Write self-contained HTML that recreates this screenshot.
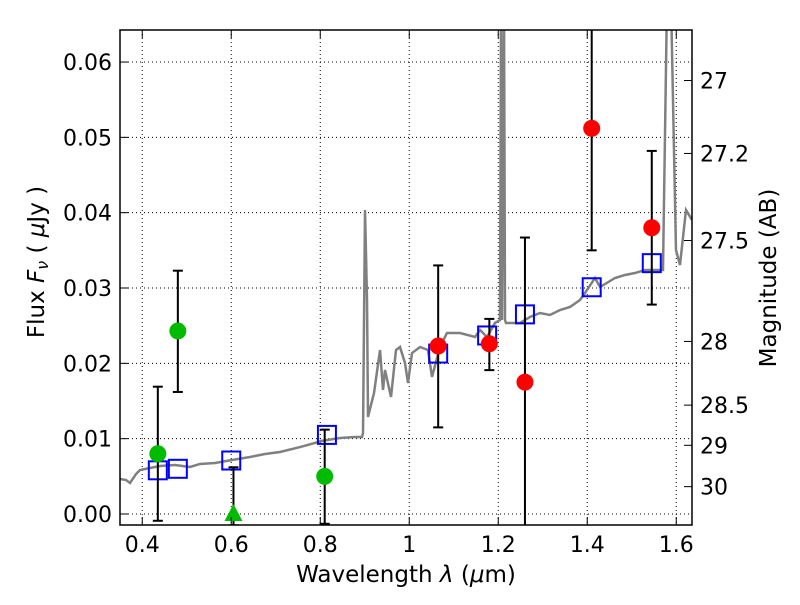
<!DOCTYPE html>
<html><head><meta charset="utf-8"><style>
body{margin:0;background:#fff}
svg{font-family:"DejaVu Sans","Liberation Sans",sans-serif}
</style></head><body>
<svg id="c" width="800" height="600" xmlns="http://www.w3.org/2000/svg">
<defs><clipPath id="pa"><rect x="120" y="30" width="572" height="495"/></clipPath></defs>
<g id="grid"></g>
<g id="spec" clip-path="url(#pa)"></g>
<g id="marks" clip-path="url(#pa)"></g>
<rect x="120" y="30" width="572" height="495" fill="none" stroke="#000" stroke-width="1.5"/>
<g id="axes"></g>
<text x="406" y="582" font-size="23" text-anchor="middle">Wavelength  <tspan font-style="italic">λ</tspan> (<tspan font-style="italic">μ</tspan>m)</text>
<text transform="translate(44,262) rotate(-90)" font-size="23" text-anchor="middle">Flux  <tspan font-style="italic">F<tspan font-size="16" dy="4">ν</tspan></tspan><tspan dy="-4">  ( </tspan><tspan font-style="italic">μ</tspan>Jy )</text>
<text transform="translate(776,278) rotate(-90)" font-size="23" text-anchor="middle">Magnitude (AB)</text>
</svg>
<script>
const xTicks=[0.4,0.6,0.8,1.0,1.2,1.4,1.6];
const xTickLabels=["0.4","0.6","0.8","1","1.2","1.4","1.6"];
const yTicks=[0,0.01,0.02,0.03,0.04,0.05,0.06];
const yTickLabels=["0.00","0.01","0.02","0.03","0.04","0.05","0.06"];
const magTicks=[27,27.2,27.5,28,28.5,29,30];
const magTickLabels=["27","27.2","27.5","28","28.5","29","30"];
const specPx=[[120,479],[126,480],[130,483],[136,474],[140,470],[150,468],[160,466],[175,465],[190,467],[200,464],[215,463],[232,460],[250,457],[265,454],[280,452],[300,447],[315,443],[321,441],[340,438],[355,437],[362,437],[363,433],[365,210],[367,300],[368,417],[374,393],[380,350],[383,390],[385,370],[391,397],[396,350],[400,347],[405,363],[408,383],[412,353],[420,347],[428,350],[432,377],[440,347],[447,333],[460,333],[475,337],[480,330],[487,337],[495,323],[500,320],[501,0],[502,320],[504,0],[505,320],[506,323],[510,323],[520,323],[530,317],[540,313],[550,315],[560,310],[570,307],[580,300],[585,293],[595,278],[600,287],[615,278],[625,275],[635,273],[645,270],[655,270],[663,270],[667,0],[671,0],[676,250],[680,265],[686,210],[692,220]];
const specWave=specPx.map(p=>+((p[0]-120)/445+0.35).toFixed(4));
const specFlux=specPx.map(p=>+((514-p[1])/7533).toFixed(5));
const greenWave=[0.435,0.48,0.81];
const greenFlux=[0.008,0.0243,0.005];
const greenHi=[0.0169,0.0323,0.0112];
const greenLo=[-0.0009,0.0162,-0.0013];
const limWave=[0.605];const limFlux=[0.0];const limHi=[0.0062];const limLo=[-0.0015];
const redWave=[1.065,1.18,1.26,1.41,1.545];
const redFlux=[0.0223,0.0226,0.0175,0.0512,0.038];
const redHi=[0.033,0.0259,0.0367,0.07,0.0482];
const redLo=[0.0115,0.0191,-0.003,0.035,0.0278];
const modelWave=[0.435,0.48,0.6,0.815,1.065,1.175,1.26,1.41,1.545];
const modelFlux=[0.0058,0.006,0.0071,0.0105,0.0213,0.0237,0.0265,0.0301,0.0333];
const X=v=>120+(v-0.35)*445, Y=v=>514-v*7533;
const NS="http://www.w3.org/2000/svg";
function mk(p,t,a){const e=document.createElementNS(NS,t);for(const k in a)e.setAttribute(k,a[k]);p.appendChild(e);return e;}
const grid=document.getElementById('grid'),axes=document.getElementById('axes');
xTicks.forEach((v,i)=>{
 const g=mk(grid,'line',{x1:X(v),x2:X(v),y1:30,y2:525,stroke:'#000','stroke-dasharray':'1,3','stroke-width':1});
 
 mk(axes,'line',{x1:X(v),x2:X(v),y1:525,y2:517,stroke:'#000'});
 mk(axes,'line',{x1:X(v),x2:X(v),y1:30,y2:38,stroke:'#000'});
 const t=mk(axes,'text',{x:X(v),y:552,'font-size':22,'text-anchor':'middle'});t.textContent=xTickLabels[i];
 
});
yTicks.forEach((v,i)=>{
 const g=mk(grid,'line',{x1:120,x2:692,y1:Y(v),y2:Y(v),stroke:'#000','stroke-dasharray':'1,3','stroke-width':1});
 
 mk(axes,'line',{x1:120,x2:128,y1:Y(v),y2:Y(v),stroke:'#000'});
 const t=mk(axes,'text',{x:112,y:Y(v)+8,'font-size':22,'text-anchor':'end'});t.textContent=yTickLabels[i];
 
});
magTicks.forEach((m,i)=>{
 const y=Y(Math.pow(10,(23.9-m)/2.5));
 mk(axes,'line',{x1:692,x2:684,y1:y,y2:y,stroke:'#000'});
 const t=mk(axes,'text',{x:700,y:y+8,'font-size':22});t.textContent=magTickLabels[i];
 
});
const sp=document.getElementById('spec');
const pl=mk(sp,'polyline',{points:specWave.map((w,i)=>X(w)+','+Y(specFlux[i])).join(' '),fill:'none',stroke:'#808080','stroke-width':2.5});

const mg=document.getElementById('marks');
function err(w,lo,hi){const x=X(w);mk(mg,'line',{x1:x,x2:x,y1:Y(lo),y2:Y(hi),stroke:'#000','stroke-width':2});
 mk(mg,'line',{x1:x-5,x2:x+5,y1:Y(lo),y2:Y(lo),stroke:'#000','stroke-width':2});
 mk(mg,'line',{x1:x-5,x2:x+5,y1:Y(hi),y2:Y(hi),stroke:'#000','stroke-width':2});}
modelWave.forEach((w,i)=>{const r=mk(mg,'rect',{x:X(w)-9,y:Y(modelFlux[i])-9,width:18,height:18,fill:'none',stroke:'#0000ff','stroke-width':2});
 });
greenWave.forEach((w,i)=>{err(w,greenLo[i],greenHi[i]);const c=mk(mg,'circle',{cx:X(w),cy:Y(greenFlux[i]),r:8.5,fill:'#00bb00'});
 });
limWave.forEach((w,i)=>{err(w,limLo[i],limHi[i]);const x=X(w),y=Y(limFlux[i]);const p=mk(mg,'polygon',{points:`${x},${y-10} ${x-9},${y+7} ${x+9},${y+7}`,fill:'#00bb00'});
 });
redWave.forEach((w,i)=>{err(w,redLo[i],redHi[i]);const c=mk(mg,'circle',{cx:X(w),cy:Y(redFlux[i]),r:8.5,fill:'#ff0000'});
 });
</script>
</body></html>
